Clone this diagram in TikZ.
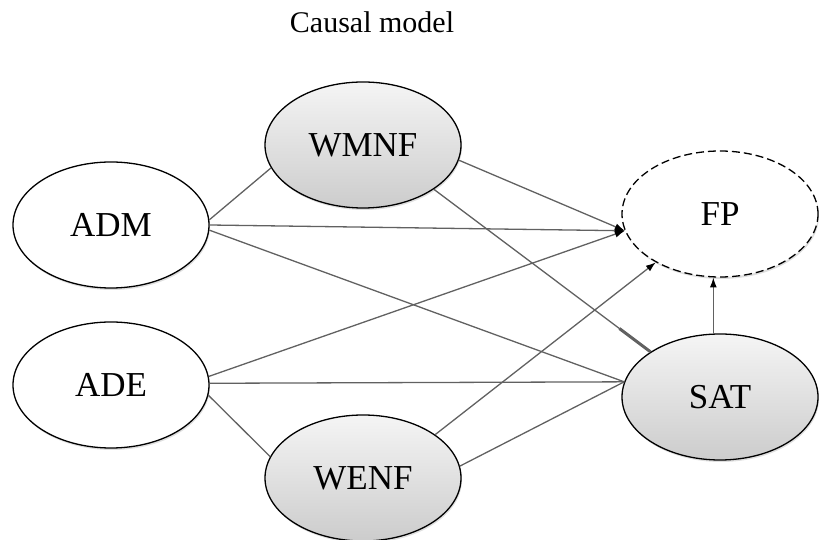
\documentclass[tikz,border=0pt]{standalone}
\usepackage{fontspec}
\setmainfont{Liberation Serif}
\usetikzlibrary{arrows.meta,shadows,calc,shapes.geometric}

\tikzset{
  var/.style={ellipse, draw=black, line width=1.3pt, minimum width=196pt,
    minimum height=126pt, inner sep=0pt, font=\fontsize{35}{40}\selectfont,
    drop shadow={shadow xshift=1pt, shadow yshift=-2pt, opacity=0.25}},
  plainvar/.style={var, fill=white},
  shadedvar/.style={var, top color=black!4, bottom color=black!20},
  outcome/.style={var, fill=white, dash pattern=on 8pt off 4pt},
  edge/.style={draw=black!62, line width=1.3pt},
  arc/.style={edge, -{Latex[length=10pt,width=7pt,color=black]}},
}

\begin{document}
\begin{tikzpicture}[x=1pt,y=1pt]
\useasboundingbox (0,0) rectangle (819,540);

\node[anchor=base, font=\fontsize{30}{34}\selectfont] (title) at (372,507) {Causal model};

% predictors, mediators and outcome
\node[plainvar]  (ADM)  at (111,315) {ADM};
\node[plainvar]  (ADE)  at (111,155) {ADE};
\node[shadedvar] (WMNF) at (363,395) {WMNF};
\node[shadedvar] (WENF) at (363,62)  {WENF};
\node[outcome]   (FP)   at (720,326) {FP};
\node[shadedvar] (SAT)  at (720,143) {SAT};

% links from ADM
\draw[edge] (ADM.3) -- (WMNF.194);
\draw[arc]  (ADM.0) -- (FP.190);
\draw[edge] (ADM.-3) -- (SAT.171);

% links from ADE
\draw[arc]  (ADE.5) -- (FP.190);
\draw[edge] (ADE.1) -- (SAT.171);
\draw[edge] (ADE.-6) -- (WENF.167);

% links from WMNF
\draw[arc]  (WMNF.-9) -- (FP.190);
\draw[edge] (WMNF.-32) -- (SAT.147);
\draw[edge, line width=3pt, shorten <=232pt] (WMNF.-32) -- (SAT.147);

% links from WENF
\draw[arc]  (WENF.31) -- (FP.217);
\draw[edge] (WENF.7) -- (SAT.171);

% SAT to FP
\draw[arc]  (SAT.96) -- (FP.264);
\end{tikzpicture}
\end{document}
